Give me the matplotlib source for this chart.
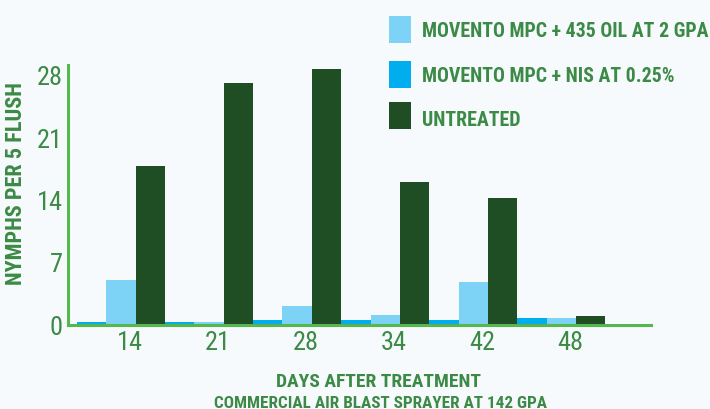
import matplotlib
matplotlib.use("Agg")
import matplotlib.pyplot as plt
from matplotlib import font_manager as fm
from matplotlib.patches import Rectangle
import numpy as np

# ---- data ----
days = ["14", "21", "28", "34", "42", "48"]
series_names = ["MOVENTO MPC + 435 OIL AT 2 GPA", "MOVENTO MPC + NIS AT 0.25%", "UNTREATED"]
oil = [5.0, 0.25, 2.1, 1.1, 4.8, 0.7]
nis = [0.25, 0.25, 0.45, 0.55, 0.55, 0.7]
untreated = [17.8, 27.1, 28.6, 16.0, 14.2, 1.0]
yticks = [0, 7, 14, 21, 28]

# ---- style ----
c_oil = "#7dd3f5"
c_nis = "#00aeef"
c_unt = "#1f4d24"
c_axis = "#55b84f"
c_text = "#3b8a45"
bg = "#f7fafc"

names = {f.name for f in fm.fontManager.ttflist}
candidates = ["Roboto Condensed", "Archivo Narrow", "PT Sans Narrow", "IBM Plex Sans Condensed",
              "Open Sans Condensed", "Liberation Sans Narrow", "Liberation Sans"]
chosen = next((c for c in candidates if c in names), "DejaVu Sans")
plt.rcParams["font.family"] = [chosen, "DejaVu Sans"]

W, H = 710, 410
fig = plt.figure(figsize=(W / 100, H / 100), dpi=100, facecolor=bg)

def fx(px):
    return px / W

def fy(py):
    return (H - py) / H

ax_left, ax_right, ax_top, ax_bot = 68, 651, 66, 325.5
ax = fig.add_axes([fx(ax_left), fy(ax_bot), fx(ax_right - ax_left), (ax_bot - ax_top) / H])
ax.set_facecolor("none")

slot = 29.35
x0 = 77
n = len(days)
g = np.arange(n) * 3
ax.bar(g, nis, width=1, align="edge", color=c_nis, linewidth=0)
ax.bar(g + 1, oil, width=1, align="edge", color=c_oil, linewidth=0)
ax.bar(g + 2, untreated, width=1, align="edge", color=c_unt, linewidth=0)

ax.set_xlim((ax_left - x0) / slot, (ax_right - x0) / slot)
ymax = (ax_bot - ax_top) / ((325 - 75) / 28)
ax.set_ylim(0, ymax)

ax.set_xticks(g + 1.8)
ax.set_xticklabels(days)
ax.set_yticks(yticks)
ax.set_yticklabels([str(v) for v in yticks])
ax.tick_params(axis="both", length=0, labelsize=19, labelcolor=c_text)
ax.tick_params(axis="x", pad=4)
ax.tick_params(axis="y", pad=4)

for s in ["top", "right"]:
    ax.spines[s].set_visible(False)
for s in ["left", "bottom"]:
    ax.spines[s].set_color(c_axis)
    ax.spines[s].set_linewidth(2.2)
    ax.spines[s].set_zorder(5)

# legend (manual)
legend_cols = [c_oil, c_nis, c_unt]
box_tops = [17, 62, 103]
baselines = [37, 82, 126]
for name, col, bt, bl in zip(series_names, legend_cols, box_tops, baselines):
    fig.add_artist(Rectangle((fx(389), fy(bt + 26.5)), 22 / W, 26.5 / H,
                             transform=fig.transFigure, color=col, linewidth=0))
    fig.text(fx(422), fy(bl), name, ha="left", va="baseline", fontsize=14.3,
             fontweight="bold", color=c_text)

# axis labels
fig.text(fx(16), fy(183.5), "NYMPHS PER 5 FLUSH", rotation=90, ha="center", va="center",
         fontsize=16, fontweight="bold", color=c_text)
fig.text(fx(379), fy(387), "DAYS AFTER TREATMENT", ha="center", va="baseline",
         fontsize=14, fontweight="bold", color=c_text)
fig.text(fx(381), fy(408), "COMMERCIAL AIR BLAST SPRAYER AT 142 GPA", ha="center", va="baseline",
         fontsize=12.3, fontweight="bold", color=c_text)

fig.savefig("out.png", dpi=100, facecolor=bg)
